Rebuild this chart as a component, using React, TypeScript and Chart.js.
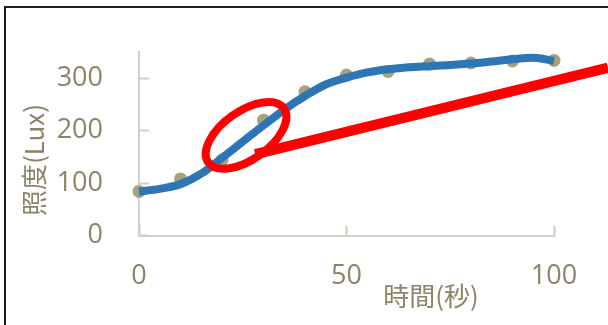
import React, { useEffect, useRef } from "react";
import { Chart, registerables } from "chart.js";

Chart.register(...registerables);

// Measured illuminance every 10 seconds
const timeSec = [0, 10, 20, 30, 40, 50, 60, 70, 80, 90, 100];
const luxMeasured = [84, 108, 144, 220, 274, 306, 313, 327, 329, 333, 334];

// Smoothed curve through the measurements
const fitTime = [0, 5, 10, 15, 20, 25, 30, 35, 40, 45, 50, 55, 60, 65, 70, 75, 80, 85, 90, 95, 100];
const fitLux = [84, 89, 98, 118, 148, 179, 210, 240, 266, 288, 301, 311, 317, 321, 323, 325, 328, 332, 336, 339, 333];

// Straight reference line, running past the right end of the axis
const tangentTime = [28, 113];
const tangentLux = [155, 320];

// Circled region (time, lux)
const highlightTime = 25.8;
const highlightLux = 191;

const xTickValues = [0, 50, 100];
const yTickValues = [0, 100, 200, 300];
const xTitle = "時間(秒)";
const yTitle = "照度(Lux)";

const TEXT_COLOR = "#8c8466";
const AXIS_COLOR = "#d3cfc3";
const TICK_FONT = { family: "'Open Sans', sans-serif", size: 27 };
const TITLE_FONT = "26px 'Noto Sans CJK JP', sans-serif";

const highlightPlugin = {
  id: "highlightEllipse",
  afterDatasetsDraw(chart: any) {
    const { ctx, scales } = chart;
    const cx = scales.x.getPixelForValue(highlightTime);
    const cy = scales.y.getPixelForValue(highlightLux);
    ctx.save();
    ctx.beginPath();
    ctx.ellipse(cx, cy, 46.5, 24, (-35.6 * Math.PI) / 180, 0, Math.PI * 2);
    ctx.strokeStyle = "#ff0000";
    ctx.lineWidth = 8;
    ctx.stroke();
    ctx.restore();
  },
};

const axisTitlePlugin = {
  id: "axisTitles",
  afterDraw(chart: any) {
    const { ctx, chartArea } = chart;
    ctx.save();
    ctx.fillStyle = TEXT_COLOR;
    ctx.font = TITLE_FONT;
    ctx.textAlign = "center";
    ctx.textBaseline = "middle";
    // horizontal title, set to the right of the axis middle
    ctx.fillText(xTitle, chartArea.left + 292, chartArea.bottom + 61);
    // vertical title
    ctx.translate(chartArea.left - 105, chartArea.top + 108);
    ctx.rotate(-Math.PI / 2);
    ctx.fillText(yTitle, 0, 0);
    ctx.restore();
  },
};

// keep the plot box exactly where the layout padding puts it
const noScalePadding = (scale: any) => {
  scale.paddingTop = 0;
  scale.paddingBottom = 0;
  scale.paddingLeft = 0;
  scale.paddingRight = 0;
};

export default function App() {
  const canvasRef = useRef<HTMLCanvasElement | null>(null);

  useEffect(() => {
    const canvas = canvasRef.current;
    if (!canvas) return;
    const chart = new Chart(canvas, {
      type: "scatter",
      data: {
        datasets: [
          {
            label: "tangent",
            data: tangentTime.map((t, i) => ({ x: t, y: tangentLux[i] })),
            showLine: true,
            borderColor: "#ff0000",
            borderWidth: 10.5,
            borderCapStyle: "butt",
            pointRadius: 0,
            clip: false as any,
            order: 0,
          },
          {
            label: "fit",
            data: fitTime.map((t, i) => ({ x: t, y: fitLux[i] })),
            showLine: true,
            borderColor: "#2e75b6",
            borderWidth: 8,
            borderCapStyle: "butt",
            cubicInterpolationMode: "monotone",
            pointRadius: 0,
            clip: false as any,
            order: 1,
          },
          {
            label: "measured",
            data: timeSec.map((t, i) => ({ x: t, y: luxMeasured[i] })),
            showLine: false,
            backgroundColor: "#a7a17e",
            borderWidth: 0,
            pointRadius: 6.5,
            clip: false as any,
            order: 2,
          },
        ],
      },
      options: {
        responsive: false,
        animation: false,
        devicePixelRatio: 1,
        layout: { padding: { left: 0, top: 52, right: 54, bottom: 0 } },
        plugins: {
          legend: { display: false },
          tooltip: { enabled: false },
          title: { display: false },
        },
        scales: {
          x: {
            type: "linear",
            min: 0,
            max: 100,
            afterFit: (scale: any) => {
              scale.height = 89.5;
              noScalePadding(scale);
            },
            afterBuildTicks: (scale: any) => {
              scale.ticks = xTickValues.map((v) => ({ value: v }));
            },
            ticks: {
              color: TEXT_COLOR,
              font: TICK_FONT,
              padding: 35,
              maxRotation: 0,
            },
            grid: {
              drawOnChartArea: false,
              drawTicks: true,
              tickLength: -10,
              tickColor: AXIS_COLOR,
              tickWidth: 2,
            },
            border: { color: AXIS_COLOR, width: 2 },
          },
          y: {
            type: "linear",
            min: 0,
            max: 350,
            afterFit: (scale: any) => {
              scale.width = 139;
              noScalePadding(scale);
            },
            afterBuildTicks: (scale: any) => {
              scale.ticks = yTickValues.map((v) => ({ value: v }));
            },
            ticks: {
              color: TEXT_COLOR,
              font: TICK_FONT,
              padding: 46,
            },
            grid: {
              drawOnChartArea: false,
              drawTicks: true,
              tickLength: -10,
              tickColor: AXIS_COLOR,
              tickWidth: 2,
            },
            border: { color: AXIS_COLOR, width: 2 },
          },
        },
      },
      plugins: [highlightPlugin, axisTitlePlugin],
    } as any);
    return () => chart.destroy();
  }, []);

  return (
    <div
      style={{
        position: "fixed",
        left: 0,
        top: 0,
        width: 608,
        height: 325,
        background: "#ffffff",
        overflow: "hidden",
      }}
    >
      <canvas ref={canvasRef} width={608} height={325} style={{ display: "block" }} />
      <div
        style={{
          position: "absolute",
          left: 4,
          top: 6,
          width: 700,
          height: 400,
          borderLeft: "2px solid #1e1e1e",
          borderTop: "2px solid #1e1e1e",
          pointerEvents: "none",
        }}
      />
    </div>
  );
}
